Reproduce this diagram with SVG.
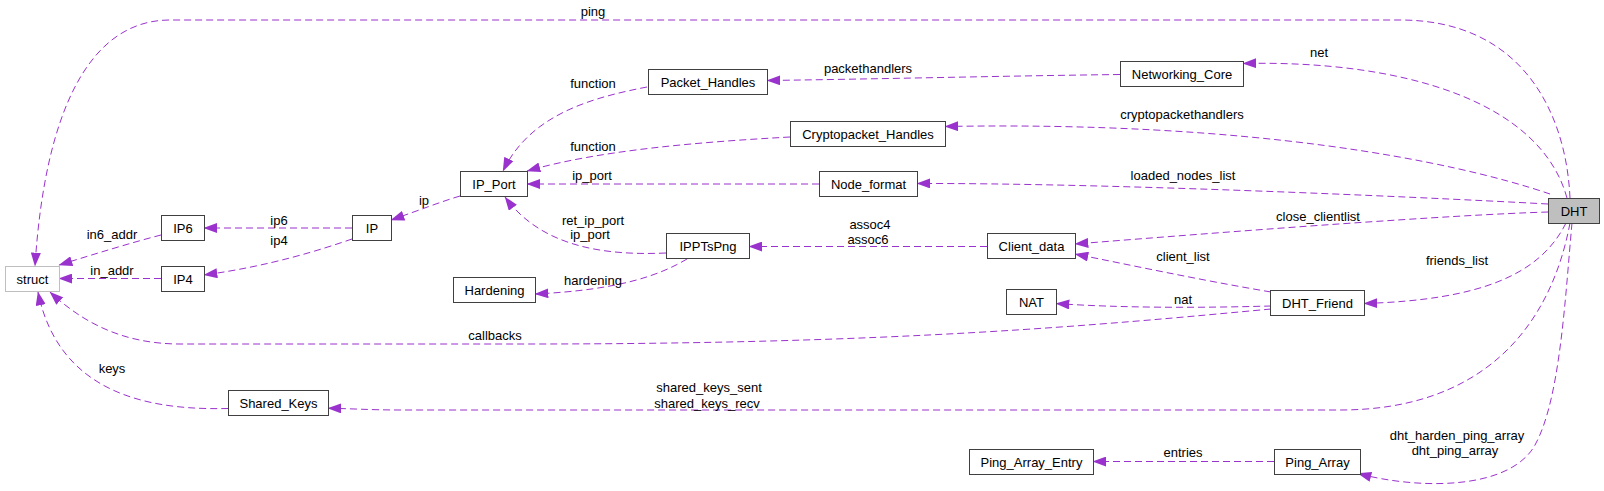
<svg xmlns="http://www.w3.org/2000/svg" width="1604" height="491" viewBox="0 0 1604 491">
<style>
text{font-family:"Liberation Sans",Arial,sans-serif;font-size:13px;fill:#000;text-anchor:middle}
.n rect{fill:#fff;stroke:#404040;stroke-width:1}
.ext rect{stroke:#bfbfbf}
.root rect{fill:#bfbfbf}
.e path{fill:none;stroke:#9a32cd;stroke-width:1;stroke-dasharray:7,4;marker-end:url(#a)}
</style>
<defs>
<marker id="a" markerUnits="userSpaceOnUse" markerWidth="14" markerHeight="10" viewBox="0 0 13 9.4" refX="12.5" refY="4.7" orient="auto">
<path d="M0,0 L13,4.7 L0,9.4 z" fill="#9a32cd"/>
</marker>
</defs>
<rect width="1604" height="491" fill="#fff"/>
<g class="e" id="edges">
<path d="M1570,198 C1566,110 1520,20 1400,20 L170,20 C90,20 45,110 35,266"/>
<path d="M1567,198 C1540,100 1400,60 1243,63.5"/>
<path d="M1120,74.5 C1000,76 880,79 767,80.5"/>
<path d="M647,87 C590,98 530,115 503,171"/>
<path d="M1550,194 C1450,160 1250,121 945,126.5"/>
<path d="M790,137 C700,142 600,150 527,171"/>
<path d="M1548,204 C1400,196 1100,183 917,183.5"/>
<path d="M819,184 L527,184"/>
<path d="M1548,212 C1450,215 1250,230 1075,244"/>
<path d="M987,246.5 L749,246.5"/>
<path d="M666,253 C600,256 540,245 505,197"/>
<path d="M687,259 C660,275 620,290 535,294"/>
<path d="M460,196 C440,202 420,210 391,220"/>
<path d="M352,228 L204,228"/>
<path d="M352,239 C320,250 270,266 204,275"/>
<path d="M161,235 C130,243 95,254 59,265"/>
<path d="M161,278.5 L59,278.5"/>
<path d="M1271,309 C1100,325 900,344 530,344 L180,344 C120,344 80,320 50,292"/>
<path d="M1271,292 C1200,280 1130,265 1075,254"/>
<path d="M1271,306 C1200,308 1120,308 1056,303.5"/>
<path d="M1566,223 C1540,275 1480,300 1364,303.5"/>
<path d="M1570,223 C1550,330 1480,410 1340,410 L400,410 C370,410 350,408.5 328,408.3"/>
<path d="M228,408.5 C160,410 60,400 38,292"/>
<path d="M1572,223 C1565,300 1560,400 1535,445 C1510,490 1420,490 1358,473.5"/>
<path d="M1274,461.5 L1093,461.5"/>
</g>
<g id="labels">
<text x="593" y="16">ping</text>
<text x="1319" y="57">net</text>
<text x="868" y="73">packethandlers</text>
<text x="593" y="88">function</text>
<text x="1182" y="119">cryptopackethandlers</text>
<text x="593" y="151">function</text>
<text x="592" y="180">ip_port</text>
<text x="1183" y="179.5">loaded_nodes_list</text>
<text x="424" y="204.5">ip</text>
<text x="1318" y="221">close_clientlist</text>
<text x="593" y="224.5">ret_ip_port</text>
<text x="590" y="238.5">ip_port</text>
<text x="870" y="228.5">assoc4</text>
<text x="868" y="243.5">assoc6</text>
<text x="279" y="224.5">ip6</text>
<text x="279" y="244.5">ip4</text>
<text x="112" y="238.5">in6_addr</text>
<text x="112" y="275">in_addr</text>
<text x="1183" y="260.5">client_list</text>
<text x="1457" y="264.5">friends_list</text>
<text x="593" y="284.5">hardening</text>
<text x="1183" y="303.5">nat</text>
<text x="495" y="340">callbacks</text>
<text x="112" y="373">keys</text>
<text x="709" y="392">shared_keys_sent</text>
<text x="707" y="407.8">shared_keys_recv</text>
<text x="1457" y="440">dht_harden_ping_array</text>
<text x="1455" y="455">dht_ping_array</text>
<text x="1183" y="456.8">entries</text>
</g>
<g class="n root" id="DHT"><rect x="1548.5" y="198.5" width="51" height="25"/><text x="1574" y="215.5">DHT</text></g>
<g class="n ext" id="struct"><rect x="5.5" y="266.5" width="54" height="25"/><text x="32.5" y="283.5">struct</text></g>
<g class="n" id="Networking_Core"><rect x="1120.5" y="61.5" width="123" height="25"/><text x="1182" y="78.5">Networking_Core</text></g>
<g class="n" id="Packet_Handles"><rect x="648.5" y="69.5" width="119" height="25"/><text x="708" y="86.5">Packet_Handles</text></g>
<g class="n" id="Cryptopacket_Handles"><rect x="790.5" y="121.5" width="155" height="25"/><text x="868" y="138.5">Cryptopacket_Handles</text></g>
<g class="n" id="IP_Port"><rect x="460.5" y="171.5" width="67" height="25"/><text x="494" y="188.5">IP_Port</text></g>
<g class="n" id="Node_format"><rect x="819.5" y="171.5" width="98" height="25"/><text x="868.5" y="188.5">Node_format</text></g>
<g class="n" id="IP"><rect x="352.5" y="215.5" width="39" height="25"/><text x="372" y="232.5">IP</text></g>
<g class="n" id="IP6"><rect x="161.5" y="215.5" width="43" height="25"/><text x="183" y="232.5">IP6</text></g>
<g class="n" id="IP4"><rect x="161.5" y="266.5" width="43" height="25"/><text x="183" y="283.5">IP4</text></g>
<g class="n" id="IPPTsPng"><rect x="666.5" y="233.5" width="83" height="25"/><text x="708" y="250.5">IPPTsPng</text></g>
<g class="n" id="Client_data"><rect x="987.5" y="233.5" width="88" height="25"/><text x="1031.5" y="250.5">Client_data</text></g>
<g class="n" id="Hardening"><rect x="453.5" y="277.5" width="82" height="25"/><text x="494.5" y="294.5">Hardening</text></g>
<g class="n" id="NAT"><rect x="1006.5" y="289.5" width="50" height="25"/><text x="1031.5" y="306.5">NAT</text></g>
<g class="n" id="DHT_Friend"><rect x="1270.5" y="290.5" width="94" height="25"/><text x="1317.5" y="307.5">DHT_Friend</text></g>
<g class="n" id="Shared_Keys"><rect x="228.5" y="390.5" width="100" height="25"/><text x="278.5" y="407.5">Shared_Keys</text></g>
<g class="n" id="Ping_Array_Entry"><rect x="969.5" y="449.5" width="124" height="25"/><text x="1031.5" y="466.5">Ping_Array_Entry</text></g>
<g class="n" id="Ping_Array"><rect x="1274.5" y="449.5" width="86" height="25"/><text x="1317.5" y="466.5">Ping_Array</text></g>
</svg>
